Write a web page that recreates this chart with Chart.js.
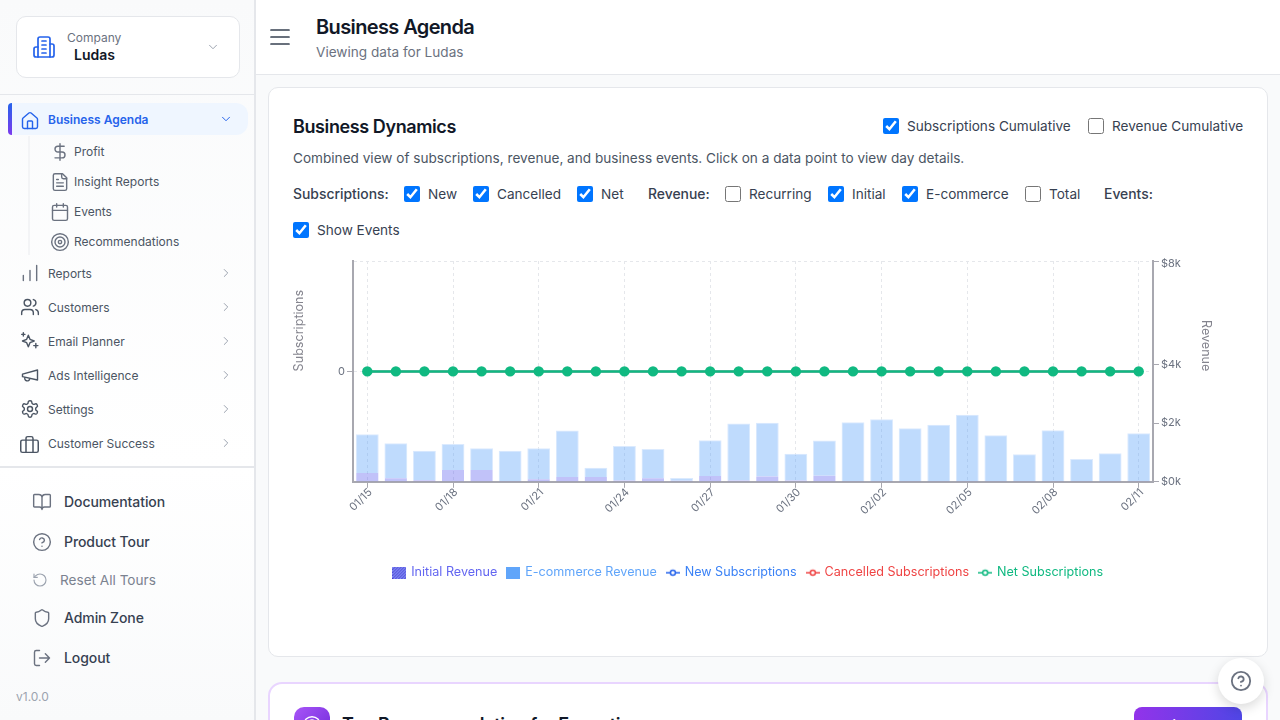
<!DOCTYPE html>
<html><head><meta charset="utf-8">
<script src="https://cdn.jsdelivr.net/npm/chart.js@4"></script>
<style>
*{box-sizing:border-box}
html,body{margin:0;width:1280px;height:720px;overflow:hidden;background:#f9fafb;font-family:Inter,sans-serif;color:#111827}
.a{position:absolute;white-space:nowrap;line-height:1}
.m{transform:translateY(-50%)}
svg.i{position:absolute;fill:none;stroke:currentColor;stroke-width:1.7;stroke-linecap:round;stroke-linejoin:round}
#side{position:absolute;left:0;top:0;width:256px;height:720px;background:linear-gradient(180deg,#f9fafb,#ffffff 65%,#f9fafb);border-right:2px solid #e5e7eb}
#head{position:absolute;left:256px;top:0;width:1024px;height:75px;background:#fff;border-bottom:1px solid #e5e7eb}
.card{position:absolute;background:#fff}
input[type=checkbox]{position:absolute;margin:0;width:16px;height:16px}
.side-s{font-size:12px;color:#4b5563}
.side-m{font-size:12px;color:#4b5563}
.side-b{font-size:14px;font-weight:500;color:#374151;letter-spacing:-.08px}
.lab{font-size:13.6px;color:#374151}
.labb{font-size:13.9px;font-weight:500;color:#374151}
</style></head><body>
<div id="side"></div>
<div class="card" style="left:16px;top:16px;width:224px;height:62px;border:1px solid #e5e7eb;border-radius:10px"></div>
<svg class="i" style="left:32px;top:35px;color:#2563eb" width="24" height="24" viewBox="0 0 24 24"><path d="M6 22V4a2 2 0 0 1 2-2h8a2 2 0 0 1 2 2v18Z"/><path d="M6 12H4a2 2 0 0 0-2 2v6a2 2 0 0 0 2 2h2"/><path d="M18 9h2a2 2 0 0 1 2 2v9a2 2 0 0 1-2 2h-2"/><path d="M10 6h4M10 10h4M10 14h4M10 18h4"/></svg>
<div class="a m" style="left:67px;top:38px;font-size:12px;color:#6b7280">Company</div>
<div class="a m" style="left:74px;top:55px;font-size:14px;font-weight:600;color:#111827">Ludas</div>
<svg class="i" style="left:206px;top:40px;color:#9ca3af" width="14" height="14" viewBox="0 0 24 24"><path d="m6 9 6 6 6-6"/></svg>
<div class="a" style="left:0;top:94px;width:254px;height:1px;background:#e5e7eb"></div>
<div class="a" style="left:8px;top:103px;width:240px;height:32px;background:#eff6ff;border-radius:4px 12px 12px 4px"></div>
<div class="a" style="left:8px;top:103px;width:4px;height:32px;background:linear-gradient(180deg,#2563eb,#7c3aed);border-radius:4px 0 0 4px"></div>
<svg class="i" style="left:20px;top:111px;color:#2563eb;" width="20" height="20" viewBox="0 0 24 24"><path d="M15 21v-8a1 1 0 0 0-1-1h-4a1 1 0 0 0-1 1v8"/><path d="M3 10a2 2 0 0 1 .7-1.500l7-6a2 2 0 0 1 2.600 0l7 6A2 2 0 0 1 21 10v9a2 2 0 0 1-2 2H5a2 2 0 0 1-2-2z"/></svg>
<div class="a m" style="left:48px;top:119.5px;font-size:12px;font-weight:600;color:#2563eb">Business Agenda</div>
<svg class="i" style="left:219px;top:112px;color:#2563eb" width="14" height="14" viewBox="0 0 24 24"><path d="m6 9 6 6 6-6"/></svg>
<div class="a" style="left:28px;top:136px;width:2px;height:119px;background:#f3f4f6"></div>
<svg class="i" style="left:50px;top:142px;color:#6b7280" width="20" height="20" viewBox="0 0 24 24"><path d="M12 2v20M17 5H9.500a3.500 3.500 0 0 0 0 7h5a3.500 3.500 0 0 1 0 7H6"/></svg>
<div class="a m side-s" style="left:74px;top:151.5px">Profit</div>
<svg class="i" style="left:50px;top:172px;color:#6b7280" width="20" height="20" viewBox="0 0 24 24"><path d="M15 2H6a2 2 0 0 0-2 2v16a2 2 0 0 0 2 2h12a2 2 0 0 0 2-2V7Z"/><path d="M14 2v4a2 2 0 0 0 2 2h4M10 9H8M16 13H8M16 17H8"/></svg>
<div class="a m side-s" style="left:74px;top:181.5px">Insight Reports</div>
<svg class="i" style="left:50px;top:202px;color:#6b7280" width="20" height="20" viewBox="0 0 24 24"><path d="M8 2v4M16 2v4"/><rect x="3" y="4" width="18" height="18" rx="2"/><path d="M3 10h18"/></svg>
<div class="a m side-s" style="left:74px;top:211.5px">Events</div>
<svg class="i" style="left:50px;top:232px;color:#6b7280" width="20" height="20" viewBox="0 0 24 24"><circle cx="12" cy="12" r="10"/><circle cx="12" cy="12" r="6"/><circle cx="12" cy="12" r="2"/></svg>
<div class="a m side-s" style="left:74px;top:241.5px">Recommendations</div>

<svg class="i" style="left:20px;top:263px;color:#6b7280" width="20" height="20" viewBox="0 0 24 24"><path d="M20 21V3M12 21V9M4 21v-6"/></svg>
<div class="a m side-m" style="left:48px;top:273.5px">Reports</div>
<svg class="i" style="left:20px;top:297px;color:#4b5563" width="20" height="20" viewBox="0 0 24 24"><path d="M16 21v-2a4 4 0 0 0-4-4H6a4 4 0 0 0-4 4v2"/><circle cx="9" cy="7" r="4"/><path d="M22 21v-2a4 4 0 0 0-3-3.900M16 3.100a4 4 0 0 1 0 7.800"/></svg>
<div class="a m side-m" style="left:48px;top:307.5px">Customers</div>
<svg class="i" style="left:20px;top:331px;color:#4b5563" width="20" height="20" viewBox="0 0 24 24"><path d="M10 5l2 5 5 2-5 2-2 5-2-5-5-2 5-2z"/><path d="M19 15v5M16.500 17.500h5M4 2v4M2 4h4"/></svg>
<div class="a m side-m" style="left:48px;top:341.5px">Email Planner</div>
<svg class="i" style="left:20px;top:365px;color:#4b5563" width="20" height="20" viewBox="0 0 24 24"><path d="m3 11 18-5v12L3 14v-3z"/><path d="M11.600 16.800a3 3 0 1 1-5.800-1.600"/></svg>
<div class="a m side-m" style="left:48px;top:375.5px">Ads Intelligence</div>
<svg class="i" style="left:20px;top:399px;color:#4b5563" width="20" height="20" viewBox="0 0 24 24"><path d="M12.200 2h-.4a2 2 0 0 0-2 2v.2a2 2 0 0 1-1 1.700l-.4.3a2 2 0 0 1-2 0l-.2-.1a2 2 0 0 0-2.700.7l-.2.4a2 2 0 0 0 .7 2.700l.2.1a2 2 0 0 1 1 1.700v.5a2 2 0 0 1-1 1.700l-.2.1a2 2 0 0 0-.7 2.700l.2.4a2 2 0 0 0 2.700.7l.2-.1a2 2 0 0 1 2 0l.4.3a2 2 0 0 1 1 1.700v.2a2 2 0 0 0 2 2h.4a2 2 0 0 0 2-2v-.2a2 2 0 0 1 1-1.700l.4-.3a2 2 0 0 1 2 0l.2.1a2 2 0 0 0 2.700-.7l.2-.4a2 2 0 0 0-.7-2.700l-.2-.1a2 2 0 0 1-1-1.700v-.5a2 2 0 0 1 1-1.700l.2-.1a2 2 0 0 0 .7-2.700l-.2-.4a2 2 0 0 0-2.700-.7l-.2.1a2 2 0 0 1-2 0l-.4-.3a2 2 0 0 1-1-1.700V4a2 2 0 0 0-2-2z"/><circle cx="12" cy="12" r="3"/></svg>
<div class="a m side-m" style="left:48px;top:409.5px">Settings</div>
<svg class="i" style="left:19px;top:434px;color:#4b5563" width="21" height="21" viewBox="0 0 24 24"><path d="M16 21V5a2 2 0 0 0-2-2h-4a2 2 0 0 0-2 2v16"/><rect x="2" y="7" width="20" height="14" rx="2"/></svg>
<div class="a m side-m" style="left:48px;top:443.5px">Customer Success</div>
<svg class="i" style="left:219px;top:266px;color:#9ca3af" width="14" height="14" viewBox="0 0 24 24"><path d="m9 18 6-6-6-6"/></svg>
<svg class="i" style="left:219px;top:300px;color:#9ca3af" width="14" height="14" viewBox="0 0 24 24"><path d="m9 18 6-6-6-6"/></svg>
<svg class="i" style="left:219px;top:334px;color:#9ca3af" width="14" height="14" viewBox="0 0 24 24"><path d="m9 18 6-6-6-6"/></svg>
<svg class="i" style="left:219px;top:368px;color:#9ca3af" width="14" height="14" viewBox="0 0 24 24"><path d="m9 18 6-6-6-6"/></svg>
<svg class="i" style="left:219px;top:402px;color:#9ca3af" width="14" height="14" viewBox="0 0 24 24"><path d="m9 18 6-6-6-6"/></svg>
<svg class="i" style="left:219px;top:436px;color:#9ca3af" width="14" height="14" viewBox="0 0 24 24"><path d="m9 18 6-6-6-6"/></svg>
<div class="a" style="left:0;top:466px;width:254px;height:2px;background:#e5e7eb"></div>

<svg class="i" style="left:32px;top:492px;color:#6b7280" width="20" height="20" viewBox="0 0 24 24"><path d="M12 7v14M3 18a1 1 0 0 1-1-1V4a1 1 0 0 1 1-1h5a4 4 0 0 1 4 4 4 4 0 0 1 4-4h5a1 1 0 0 1 1 1v13a1 1 0 0 1-1 1h-6a3 3 0 0 0-3 3 3 3 0 0 0-3-3z"/></svg>
<div class="a m side-b" style="left:64px;top:502px">Documentation</div>
<svg class="i" style="left:32px;top:532px;color:#6b7280" width="20" height="20" viewBox="0 0 24 24"><circle cx="12" cy="12" r="10"/><path d="M9.100 9a3 3 0 0 1 5.800 1c0 2-3 3-3 3M12 17h.01"/></svg>
<div class="a m side-b" style="left:64px;top:542px">Product Tour</div>
<svg class="i" style="left:32px;top:572px;color:#9ca3af" width="16" height="16" viewBox="0 0 24 24"><path d="M3 12a9 9 0 1 0 9-9 9.750 9.750 0 0 0-6.740 2.740L3 8"/><path d="M3 3v5h5"/></svg>
<div class="a m" style="left:60px;top:581px;font-size:13.6px;color:#7b8290">Reset All Tours</div>
<svg class="i" style="left:32px;top:608px;color:#6b7280" width="20" height="20" viewBox="0 0 24 24"><path d="M20 13c0 5-3.500 7.500-7.700 9a1 1 0 0 1-.6 0C7.500 20.500 4 18 4 13V6a1 1 0 0 1 1-1c2 0 4.500-1.200 6.200-2.700a1.200 1.200 0 0 1 1.600 0C14.500 3.800 17 5 19 5a1 1 0 0 1 1 1z"/></svg>
<div class="a m side-b" style="left:64px;top:618px">Admin Zone</div>
<svg class="i" style="left:32px;top:648px;color:#6b7280" width="20" height="20" viewBox="0 0 24 24"><path d="M9 21H5a2 2 0 0 1-2-2V5a2 2 0 0 1 2-2h4M16 17l5-5-5-5M21 12H9"/></svg>
<div class="a m side-b" style="left:64px;top:658px">Logout</div>
<div class="a m" style="left:16px;top:697px;font-size:12px;color:#9ca3af">v1.0.0</div>

<div id="head"></div>
<svg class="i" style="left:268px;top:25px;color:#374151" width="24" height="24" viewBox="0 0 24 24"><path d="M3 5h18M3 12h18M3 19h18"/></svg>
<div class="a m" style="left:316px;top:27px;font-size:20px;font-weight:600;letter-spacing:-.62px;color:#111827">Business Agenda</div>
<div class="a m" style="left:316px;top:53px;font-size:13.6px;color:#6b7280">Viewing data for Ludas</div>

<div class="card" style="left:268px;top:87px;width:1000px;height:570px;border:1px solid #e5e7eb;border-radius:10px"></div>
<div class="a m" style="left:293px;top:127px;font-size:18px;font-weight:600;letter-spacing:-.4px;color:#111827">Business Dynamics</div>
<input type="checkbox" checked style="left:883px;top:118px"><div class="a m lab" style="left:907px;top:127px">Subscriptions Cumulative</div>
<input type="checkbox" style="left:1088px;top:118px"><div class="a m lab" style="left:1112px;top:127px">Revenue Cumulative</div>
<div class="a m" style="left:293px;top:159px;font-size:13.6px;color:#4b5563">Combined view of subscriptions, revenue, and business events. Click on a data point to view day details.</div>
<div class="a m labb" style="left:293px;top:195px">Subscriptions:</div>
<input type="checkbox" checked style="left:404px;top:186px"><div class="a m lab" style="left:428px;top:195px">New</div>
<input type="checkbox" checked style="left:473px;top:186px"><div class="a m lab" style="left:497px;top:195px">Cancelled</div>
<input type="checkbox" checked style="left:577px;top:186px"><div class="a m lab" style="left:601px;top:195px">Net</div>
<div class="a m labb" style="left:648px;top:195px">Revenue:</div>
<input type="checkbox" style="left:725px;top:186px"><div class="a m lab" style="left:749px;top:195px">Recurring</div>
<input type="checkbox" checked style="left:828px;top:186px"><div class="a m lab" style="left:852px;top:195px">Initial</div>
<input type="checkbox" checked style="left:902px;top:186px"><div class="a m lab" style="left:926px;top:195px">E-commerce</div>
<input type="checkbox" style="left:1025px;top:186px"><div class="a m lab" style="left:1049px;top:195px">Total</div>
<div class="a m labb" style="left:1104px;top:195px">Events:</div>
<input type="checkbox" checked style="left:293px;top:222px"><div class="a m lab" style="left:317px;top:231px">Show Events</div>

<div style="position:absolute;left:277px;top:250px;width:943px;height:340px"><canvas id="c" width="943" height="340" style="width:943px;height:340px;display:block"></canvas></div>

<div class="card" style="left:268px;top:682px;width:1000px;height:200px;border:2px solid #e9d5ff;border-radius:14px"></div>
<div class="a" style="left:294px;top:707px;width:36px;height:36px;border-radius:10px;background:linear-gradient(135deg,#a855f7,#6d28d9)"></div>
<svg class="i" style="left:302px;top:715px;color:#fff" width="20" height="20" viewBox="0 0 24 24"><circle cx="12" cy="12" r="10"/><circle cx="12" cy="12" r="6"/><circle cx="12" cy="12" r="2"/></svg>
<div class="a" style="left:342px;top:716px;font-size:18px;font-weight:600;letter-spacing:-.3px;color:#111827">Top Recommendation for Execution</div>
<div class="a" style="left:1134px;top:707px;width:108px;height:36px;border-radius:8px;background:linear-gradient(90deg,#9333ea,#4f46e5)"></div>
<div class="a" style="left:1134px;top:719px;width:108px;text-align:center;font-size:13.6px;font-weight:500;color:#fff">View all</div>
<div class="a" style="left:1218px;top:658px;width:46px;height:46px;border-radius:50%;background:#fff;box-shadow:0 4px 12px rgba(0,0,0,.15)"></div>
<svg class="i" style="left:1230px;top:670px;color:#6b7280;stroke-width:2" width="22" height="22" viewBox="0 0 24 24"><circle cx="12" cy="12" r="10"/><path d="M9.100 9a3 3 0 0 1 5.800 1c0 2-3 3-3 3M12 17h.01"/></svg>

<script>
const dates = ['01/15','01/16','01/17','01/18','01/19','01/20','01/21','01/22','01/23','01/24','01/25','01/26','01/27','01/28','01/29','01/30','01/31','02/01','02/02','02/03','02/04','02/05','02/06','02/07','02/08','02/09','02/10','02/11'];
const initialRevenue = [297,125,57,399,399,23,91,160,160,46,125,34,194,46,182,46,205,23,23,23,23,23,23,23,23,23,23,23];
const ecommerceRevenue = [1325,1189,1004,891,744,1038,1052,1585,320,1176,994,94,1222,1938,1826,912,1198,2009,2111,1804,1917,2258,1564,915,1735,754,949,1633];
const newSubscriptions = [0,0,0,0,0,0,0,0,0,0,0,0,0,0,0,0,0,0,0,0,0,0,0,0,0,0,0,0];
const cancelledSubscriptions = [0,0,0,0,0,0,0,0,0,0,0,0,0,0,0,0,0,0,0,0,0,0,0,0,0,0,0,0];
const netSubscriptions = [0,0,0,0,0,0,0,0,0,0,0,0,0,0,0,0,0,0,0,0,0,0,0,0,0,0,0,0];
const revenueTicks = [0,2000,4000,8000];
const subscriptionTicks = [0,1];

const AXIS = '#a8a8b0', GRID = '#e5e7eb', TEXT = '#6b7280';
const FONT = 'Inter';

/* The reference's revenue axis is compressed above $4k. */
const labelNudge = {'$8k':3};
class BendLinear extends Chart.LinearScale {
  static id = 'bendLinear';
  static defaults = Chart.LinearScale.defaults;
  _bend(v){ return v <= 4000 ? v/4000*(117/220) : 117/220 + (v-4000)/4000*(103/220); }
  getPixelForValue(v){
    if (this.id !== 'y2') return super.getPixelForValue(v);
    return this.getPixelForDecimal(this._bend(v));
  }
  _computeLabelItems(area){
    const items = super._computeLabelItems(area);
    items.forEach(it => { const n = labelNudge[it.label]; if (n) it.options.translation = [it.options.translation[0], it.options.translation[1] + n]; });
    return items;
  }
  drawTitle(){
    const b = this.bottom;
    this.bottom = (this.top + this.bottom) / 2;
    super.drawTitle();
    this.bottom = b;
  }
}
Chart.register(BendLinear);

function swatch(draw){
  const c = document.createElement('canvas'); c.width = 14; c.height = 12;
  draw(c.getContext('2d')); return c;
}
const markerHatch = swatch(g => {
  g.fillStyle = '#818cf8'; g.fillRect(0,0,14,12);
  g.strokeStyle = '#4338ca'; g.lineWidth = 1;
  for (let i=-12;i<14;i+=3){ g.beginPath(); g.moveTo(i,12); g.lineTo(i+12,0); g.stroke(); }
});
const markerSolid = swatch(g => { g.fillStyle = '#60a5fa'; g.fillRect(0,0,14,12); });
const markerLine = col => swatch(g => {
  g.strokeStyle = col; g.lineWidth = 1.5;
  g.beginPath(); g.moveTo(0,6); g.lineTo(14,6); g.stroke();
  g.fillStyle = '#fff'; g.beginPath(); g.arc(7,6,2.5,0,Math.PI*2); g.fill(); g.stroke();
});
const legendStyle = [
  {img:markerHatch, color:'#6366f1'},
  {img:markerSolid, color:'#60a5fa'},
  {img:markerLine('#2563eb'), color:'#3b82f6'},
  {img:markerLine('#ef4444'), color:'#ef4444'},
  {img:markerLine('#10b981'), color:'#10b981'}
];

const lineDs = (label, data, color, order, width, radius) => ({type:'line', label, data, yAxisID:'y', borderColor:color, backgroundColor:color, borderWidth:width, pointRadius:radius, pointBackgroundColor:color, pointBorderWidth:0, tension:0, order});

new Chart(document.getElementById('c'), {
  data: {
    labels: dates,
    datasets: [
      {type:'bar', label:'Initial Revenue', data:initialRevenue, yAxisID:'y2', backgroundColor:'rgba(99,102,241,.4)', barPercentage:.77, categoryPercentage:1, borderWidth:0, order:4},
      {type:'bar', label:'E-commerce Revenue', data:ecommerceRevenue, yAxisID:'y2', backgroundColor:'rgba(96,165,250,.4)', borderColor:'#dbeafe', borderWidth:1, borderSkipped:'bottom', barPercentage:.8, categoryPercentage:1, order:5},
      lineDs('New Subscriptions', newSubscriptions, '#2563eb', 3, 1.5, 4),
      lineDs('Cancelled Subscriptions', cancelledSubscriptions, '#ef4444', 2, 1.5, 4),
      lineDs('Net Subscriptions', netSubscriptions, '#10b981', 1, 2.5, 5.2)
    ]
  },
  options: {
    responsive:false, animation:false, devicePixelRatio:1,
    layout:{padding:{top:11,left:0,right:0,bottom:1}},
    plugins:{
      tooltip:{enabled:false},
      legend:{position:'bottom', labels:{
        color:TEXT, font:{family:FONT,size:12.6}, padding:10.6, usePointStyle:true, pointStyleWidth:11,
        generateLabels: ch => ch.data.datasets.map((d,i) => ({text:d.label, fontColor:legendStyle[i].color, pointStyle:legendStyle[i].img, datasetIndex:i, hidden:false, lineWidth:0, strokeStyle:'transparent', fillStyle:'transparent'}))
      }}
    },
    scales:{
      x:{
        stacked:true, offset:true,
        afterBuildTicks: s => { s.ticks = s.ticks.filter((t,i) => i % 3 === 0); },
        afterFit: s => { s.height = 74; },
        ticks:{autoSkip:false, maxRotation:45, minRotation:45, padding:-2, labelOffset:3, color:TEXT, font:{family:FONT,size:11}, callback(v){ return this.getLabelForValue(v); }},
        grid:{offset:false, color:GRID, tickColor:AXIS, tickLength:6, lineWidth:1},
        border:{color:AXIS, width:2, dash:[3,3]}
      },
      y:{
        type:'bendLinear', position:'left', min:-1, max:1,
        afterBuildTicks: s => { s.ticks = subscriptionTicks.map(value => ({value})); },
        afterFit: s => { s.width = 76; },
        ticks:{padding:2, color:TEXT, font:{family:FONT,size:11}, callback:v => v === 0 ? '0' : ''},
        grid:{color:GRID, tickColor:c => c.tick && c.tick.value === 0 ? AXIS : 'transparent', tickLength:6, lineWidth:1},
        border:{color:AXIS, width:2, dash:[3,3]},
        title:{display:true, text:'Subscriptions', align:'start', color:'#84848e', font:{family:FONT,size:12.6}, padding:{top:15,bottom:0}}
      },
      y2:{
        type:'bendLinear', position:'right', min:0, max:8000, stacked:true,
        afterBuildTicks: s => { s.ticks = revenueTicks.map(value => ({value})); },
        afterFit: s => { s.width = 67; },
        ticks:{padding:2, color:TEXT, font:{family:FONT,size:11}, callback:v => '$' + (v/1000) + 'k'},
        grid:{drawOnChartArea:false, tickColor:AXIS, tickLength:6},
        border:{color:AXIS, width:2},
        title:{display:true, text:'Revenue', align:'start', color:'#84848e', font:{family:FONT,size:12.6}, padding:{top:7,bottom:0}}
      }
    }
  }
});
</script>
</body></html>
